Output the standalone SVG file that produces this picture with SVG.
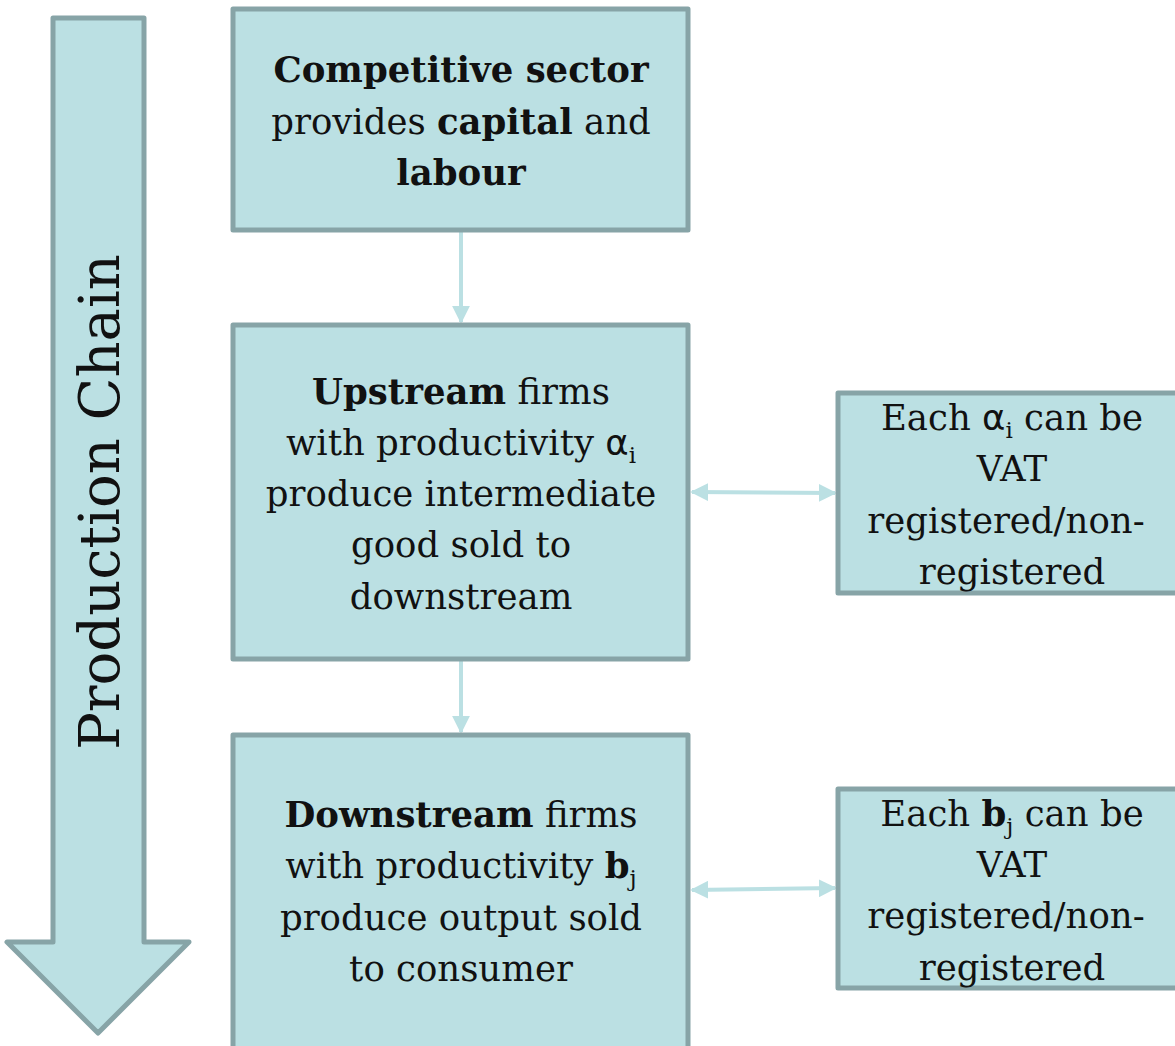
<svg xmlns="http://www.w3.org/2000/svg" width="1175" height="1046" viewBox="0 0 1175 1046">
  <style>
    .box { fill: #BBE0E3; stroke: #87A4A7; stroke-width: 5; stroke-linejoin: round; }
    .lbl { font-family: "DejaVu Serif", "Liberation Serif", serif; font-size: 35.5px; fill: #111; text-anchor: middle; }
    .b { font-weight: bold; }
    .sym { font-family: "DejaVu Sans", "Liberation Sans", sans-serif; }
    .sub { font-size: 23px; }
    .conn { stroke: #BBE0E3; stroke-width: 4; fill: none; }
  </style>
  <defs>
    <marker id="head" viewBox="0 0 10 10" refX="9" refY="5" markerWidth="4.5" markerHeight="4.5" orient="auto-start-reverse" markerUnits="strokeWidth">
      <path d="M0,0 L10,5 L0,10 z" fill="#BBE0E3"/>
    </marker>
  </defs>

  <!-- Production chain arrow -->
  <g id="production-chain">
    <path class="box" d="M53,18 L144,18 L144,942 L189,942 L98,1033 L7,942 L53,942 Z"/>
    <text transform="translate(119,502) rotate(-90)" style="font-family: 'DejaVu Serif','Liberation Serif',serif; font-size: 56px; fill:#111; text-anchor: middle;">Production Chain</text>
  </g>

  <!-- Connectors -->
  <g id="connectors">
    <line class="conn" x1="461" y1="232" x2="461" y2="322" marker-end="url(#head)"/>
    <line class="conn" x1="461" y1="661" x2="461" y2="732" marker-end="url(#head)"/>
    <line class="conn" x1="692" y1="492" x2="835" y2="493" marker-start="url(#head)" marker-end="url(#head)"/>
    <line class="conn" x1="692" y1="890" x2="835" y2="888" marker-start="url(#head)" marker-end="url(#head)"/>
  </g>

  <g id="competitive">
    <rect class="box" x="233" y="9" width="455" height="221"/>
    <text class="lbl" x="461" y="82"><tspan class="b">Competitive sector</tspan></text>
    <text class="lbl" x="461" y="134">provides <tspan class="b">capital</tspan> and</text>
    <text class="lbl" x="461" y="185"><tspan class="b">labour</tspan></text>
  </g>

  <g id="upstream">
    <rect class="box" x="233" y="325" width="455" height="334"/>
    <text class="lbl" x="461" y="404"><tspan class="b">Upstream</tspan> firms</text>
    <text class="lbl" x="461" y="455">with productivity <tspan class="sym">α</tspan><tspan class="sub" dy="8">i</tspan></text>
    <text class="lbl" x="461" y="506">produce intermediate</text>
    <text class="lbl" x="461" y="557">good sold to</text>
    <text class="lbl" x="461" y="609">downstream</text>
  </g>

  <g id="downstream">
    <rect class="box" x="233" y="735" width="455" height="320"/>
    <text class="lbl" x="461" y="827"><tspan class="b">Downstream</tspan> firms</text>
    <text class="lbl" x="461" y="878">with productivity <tspan class="b">b</tspan><tspan class="sub" dy="8">j</tspan></text>
    <text class="lbl" x="461" y="930">produce output sold</text>
    <text class="lbl" x="461" y="981">to consumer</text>
  </g>

  <g id="upstream-vat">
    <rect class="box" x="838" y="393" width="345" height="200"/>
    <text class="lbl" x="1012" y="430">Each <tspan class="sym">α</tspan><tspan class="sub" dy="8">i</tspan><tspan dy="-8"> can be</tspan></text>
    <text class="lbl" x="1012" y="481">VAT</text>
    <text class="lbl" x="1006" y="533">registered/non-</text>
    <text class="lbl" x="1012" y="584">registered</text>
  </g>

  <g id="downstream-vat">
    <rect class="box" x="838" y="789" width="345" height="199"/>
    <text class="lbl" x="1012" y="826">Each <tspan class="b">b</tspan><tspan class="sub" dy="8">j</tspan><tspan dy="-8"> can be</tspan></text>
    <text class="lbl" x="1012" y="877">VAT</text>
    <text class="lbl" x="1006" y="928">registered/non-</text>
    <text class="lbl" x="1012" y="980">registered</text>
  </g>
</svg>
